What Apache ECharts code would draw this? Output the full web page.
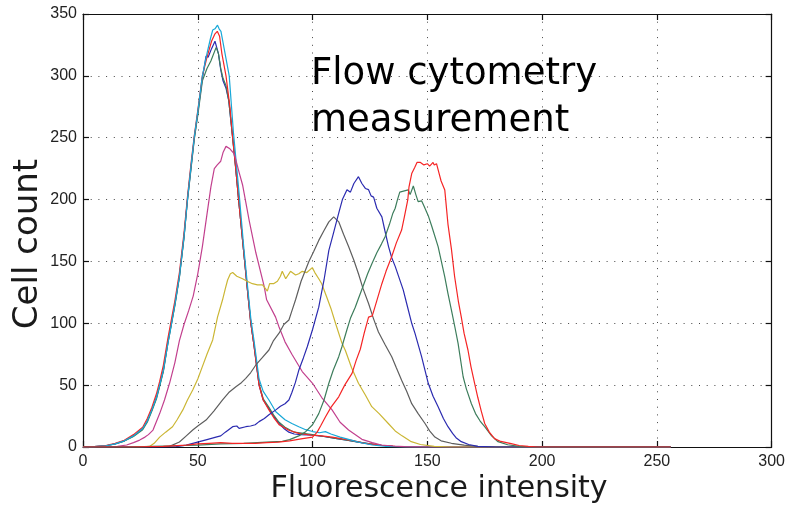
<!DOCTYPE html>
<html>
<head>
<meta charset="utf-8">
<script src="https://cdn.jsdelivr.net/npm/echarts@6/dist/echarts.min.js"></script>
<style>
html,body{margin:0;padding:0;background:#fff;}
#chart{width:788px;height:508px;}
</style>
</head>
<body>
<div id="chart"></div>
<script>
// ---- data: [fluorescence intensity, cell count] ----
const blue1 = [[0,0],[5,0.3],[10,1],[14,2.5],[18,5],[22,9],[26,15],[28,21],[30,30],[32,40],[33.4,50],[35,62],[37,85],[38.5,100],[40,115],[42,138],[44,170],[45.5,200],[47,225],[48.5,250],[50,270],[52,298],[53.6,316],[54.5,315],[56,322],[57.5,328],[58.3,327],[59,318],[60,305],[61,296],[62.3,290],[63.5,280],[65.2,250],[66.5,226],[67.8,200],[70,158],[72,120],[73.1,100],[74.5,82],[76.7,50],[78.5,38],[81,31],[83,25],[85.4,19],[87.5,15],[89.7,12],[92,10.5],[95,10],[100,9.5],[105,8.5],[110,7],[115,5.5],[120,4],[125,2.5],[130,1.4],[135,0.6],[140,0.2],[145,0],[256,0]];
const green1 = [[0,0],[5,0.3],[10,1],[14,2.4],[18,4.8],[22,8.5],[26,14],[28,20],[30,29],[32,39],[33.4,49],[35,61],[37,84],[38.5,99],[40,114],[42,137],[44,169],[45.5,199],[47,224],[48.5,249],[50,268],[52,296],[54,306],[55.7,312],[56.5,313],[58,323],[59,318],[60,306],[61,298],[62.3,292],[63.5,280],[65.2,250],[66.5,226],[67.8,200],[70,158],[72,121],[73.1,101],[74.5,83],[76.7,51],[78.5,39],[81,32],[83,26],[85.4,20],[88,16],[92,12],[96,11],[100,10],[105,8.5],[110,7],[115,5.5],[120,4],[125,2.5],[130,1.4],[135,0.6],[140,0.2],[145,0],[256,0]];
const red1 = [[0,0],[5,0.4],[10,1.2],[14,3],[18,5.5],[22,10],[26,16],[28,23],[30,32],[32,43],[33.4,53],[35,66],[37,88],[38.5,103],[40,118],[42,141],[44,173],[45.5,202],[47,228],[48.5,252],[50,272],[52,300],[54,315],[56,328],[57.5,334],[58.5,336],[59.5,332],[60.5,318],[62.3,300],[64,275],[65.2,250],[66.5,226],[67.8,200],[70,158],[72,120],[73.1,100],[74.5,82],[76.7,50],[78.5,38],[81,30],[83,24],[85.4,18],[89.7,13.5],[94,11],[99.8,9.5],[104,9],[108.5,8],[113,6.5],[117,5.4],[123,3],[130,1.4],[136,0.5],[142,0],[256,0]];
const cyan1 = [[0,0],[5,0.3],[10,1],[14,2.5],[18,5],[22,9],[26,15],[28,21],[30,30],[32,40],[33.4,50],[35,62],[37,84],[38.5,99],[40,115],[42,138],[44,170],[45.5,200],[47,226],[48.5,251],[50,271],[52,300],[54,318],[55.5,330],[56.5,337],[57.5,338],[58.6,341],[59.3,338],[60.1,336],[61.5,322],[62.3,314],[63.7,300],[65.5,255],[68,205],[70,162],[72,124],[73.1,104],[74.5,86],[76.7,55],[78.5,45],[81,38],[84,28.5],[88,22],[91,19],[94,16.4],[97,14],[100,12.5],[103,11.5],[105.6,12.4],[108,10.5],[112,8],[115.7,6.2],[120,4],[126,1.6],[132,0.5],[138,0],[256,0]];
const magenta = [[0,0],[10,0],[15,0.5],[19,1.6],[22,3.5],[24.7,5.6],[27,8],[28.5,10],[30.5,13.7],[33.4,27],[35.5,38],[37.7,51.5],[40,68],[42,86],[44,99],[46,110],[48,122],[50,140],[52,162],[54,188],[55.7,210],[57.2,225],[58.5,228],[60,231],[61,238],[62.3,243],[64,241],[65.9,237],[68,222],[69.5,212],[72.4,183],[75.3,157],[78.9,130],[80,119],[83.9,105],[85.4,97],[88,85],[91,75],[95.5,61],[100,51.5],[104,40],[108.5,30],[112,20],[115.7,13.7],[121.5,6.2],[126,3.5],[130,1.6],[135,0.8],[140,0.3],[150,0],[256,0]];
const yellow = [[0,0],[25,0],[29,0.5],[31,3],[33.4,8],[36,12],[39,16.4],[41,22],[43.5,30],[45.5,38],[47.8,46],[50,55],[52,65],[54,75],[56.5,86.5],[58.6,105],[60.8,119],[62,128],[63,135],[64.2,140],[65.2,141],[67,138],[69.5,136],[71.5,134],[73.8,132],[76,131],[78.2,131],[79.5,128],[80.3,126],[81.3,132],[83,132],[84.7,134],[86,138],[86.8,142],[88.3,136],[90.4,142],[92.6,139],[94,140],[95.5,142],[97.5,141],[99.9,145],[101,141],[102.7,136],[104,132],[106,122],[108,112],[110,100],[112.8,84],[114.3,78],[117,64],[120,51.5],[123,42],[125.8,32.6],[129,27],[133,19],[136,13],[139,9],[143,4.3],[147,2],[153,0.5],[160,0],[256,0]];
const gray = [[0,0],[30,0],[37.7,0.5],[42,4],[45,9],[47.8,13.7],[50,17],[53.6,21.8],[57,29],[60.8,38],[63.5,44],[66.6,48.7],[69,52],[70.9,55.5],[73,60],[75.3,66.3],[78,72],[81,78.4],[83,86],[85.4,92],[87.5,99],[89.7,102.7],[91,110],[92.6,119],[95,134],[98.4,150],[100.5,158],[102.7,167],[105,175],[107.1,182],[109.2,186],[111.4,182],[113.5,172],[115.7,162],[118,151],[120,140],[122,128],[124.4,116],[126.5,104],[128.7,93],[131.5,83],[134.5,73],[136.5,64],[138.8,54],[141,45],[143.2,35],[146,27],[149,19],[151,13],[153.3,8],[156,5],[160.5,3],[166,1.5],[172,0.5],[180,0],[256,0]];
const blue2 = [[0,0],[35,0],[40.6,0.3],[45,1.5],[50.7,4.3],[54,6],[57.9,8],[60,9],[62,12],[65.2,16.4],[67,17],[68,15],[70.9,16.4],[73,17],[75,18],[76.7,20.5],[79,23],[81,26],[84,30],[86,33],[88,35],[89.7,38],[91,44],[92.5,52],[94,62],[96,72],[97.7,81],[100,95],[102.7,113],[105,135],[107.1,159],[109,172],[111.4,189],[113,200],[115,208],[116.5,206],[118,213],[120,218.5],[121.5,213],[123,209],[124.4,208],[125.5,203],[126.6,202],[128,193],[130.2,186],[131.5,175],[133.1,162],[134.5,153],[136,146],[139.5,127],[141,116],[143.2,100],[144.6,92],[147.5,73],[150.4,51.5],[152.5,41],[154.7,32.6],[157,23],[159,16.4],[161,11],[162.5,7.5],[164.8,4.3],[168,2],[172,0.5],[180,0],[256,0]];
const green2 = [[0,0],[20,0],[30,0.5],[40,1],[50,1.5],[60,2.5],[70,3],[80,4],[86.8,4.5],[90,6],[94,9],[97,12.4],[100,18],[102.7,27],[105,38],[107.1,51.5],[109,62],[111.4,73],[112.8,81],[115,95],[116.5,104],[118.6,113],[120,120],[122,130],[124,140],[125.8,148],[128,157],[130,164],[131.6,170],[133.5,180],[135,189],[136,193],[137,200],[138,206],[138.8,206.4],[140,207],[141.7,207.8],[142.5,204],[143.9,211],[145,204],[146,198.3],[147.5,199],[148.5,195],[150.4,187],[152,178],[154.7,162],[157.6,137.6],[159,124],[160.5,110.7],[162,97],[163.4,83.8],[165.6,56.8],[167,47],[169.2,35],[171,27],[173,21],[175,16.4],[178,9],[180.8,4.3],[185,1.8],[190,0.5],[195,0],[256,0]];
const red2 = [[0,0],[20,0],[35,0.5],[45,1.5],[50,2.5],[55,3],[60,3.5],[65,3],[70,3],[75,3],[80,3.5],[85,4],[90,5],[95,6.5],[100,8],[102,12],[103.5,17],[105.6,24.3],[108,32],[111.4,40.6],[114,50],[117.2,59.5],[119,70],[120.8,79],[122.5,92],[124.4,105],[126,106],[127,112],[130.2,132],[132,142],[134.5,154],[136.5,165],[138.8,175.4],[140,186],[141.5,200],[142,210],[143.2,221],[144.5,226],[145.5,230],[146,229],[147,230],[148.5,228],[150,229],[151,227],[152.5,230],[153,228],[154,229],[155,222],[156,215],[157.6,207.8],[159,180],[160.5,160],[161.9,137.6],[163.5,118],[164.8,105],[166,92],[167.7,78.4],[169,65],[170.6,51.5],[172,40],[173.5,29],[175,19],[177,12],[179.3,6.8],[182,4.5],[186.5,2.7],[190,1.2],[194,0.5],[198,0],[256,0]];

const xTicks = [0, 50, 100, 150, 200, 250, 300];
const yTicks = [0, 50, 100, 150, 200, 250, 300, 350];

const seriesList = [
  {data: blue1,   color: '#2b2bb0'},
  {data: green1,  color: '#3d7d5c'},
  {data: red1,    color: '#f52525'},
  {data: cyan1,   color: '#18a8d8'},
  {data: magenta, color: '#c2408e'},
  {data: yellow,  color: '#cbb634'},
  {data: gray,    color: '#5e5e5e'},
  {data: blue2,   color: '#2b2bb0'},
  {data: green2,  color: '#3d7d5c'},
  {data: red2,    color: '#f52525'}
];

const chart = echarts.init(document.getElementById('chart'), null, {renderer: 'canvas'});
const gridDots = {color: '#444', width: 1, type: [1, 6.7]};
const axisLineStyle = {color: '#111', width: 1.2};
const tickFont = {fontFamily: 'Liberation Sans', fontSize: 16, color: '#222'};

chart.setOption({
  animation: false,
  backgroundColor: '#fff',
  grid: {left: 83, right: 13, top: 14, bottom: 61, containLabel: false},
  xAxis: [
    {type: 'value', min: xTicks[0], max: xTicks[xTicks.length - 1], interval: 50, position: 'bottom',
     axisLine: {show: true, onZero: false, lineStyle: axisLineStyle},
     axisTick: {show: true, inside: true, length: 6, lineStyle: axisLineStyle},
     axisLabel: Object.assign({margin: 7}, tickFont),
     splitLine: {show: true, lineStyle: gridDots}},
    {type: 'value', min: xTicks[0], max: xTicks[xTicks.length - 1], interval: 50, position: 'top',
     axisLine: {show: true, onZero: false, lineStyle: axisLineStyle},
     axisTick: {show: true, inside: true, length: 6, lineStyle: axisLineStyle},
     axisLabel: {show: false}, splitLine: {show: false}}
  ],
  yAxis: [
    {type: 'value', min: yTicks[0], max: yTicks[yTicks.length - 1], interval: 50, position: 'left',
     axisLine: {show: true, onZero: false, lineStyle: axisLineStyle},
     axisTick: {show: true, inside: true, length: 6, lineStyle: axisLineStyle},
     axisLabel: Object.assign({margin: 6}, tickFont),
     splitLine: {show: true, lineStyle: gridDots}},
    {type: 'value', min: yTicks[0], max: yTicks[yTicks.length - 1], interval: 50, position: 'right',
     axisLine: {show: true, onZero: false, lineStyle: axisLineStyle},
     axisTick: {show: true, inside: true, length: 6, lineStyle: axisLineStyle},
     axisLabel: {show: false}, splitLine: {show: false}}
  ],
  series: seriesList.map(s => ({
    type: 'line', data: s.data, xAxisIndex: 0, yAxisIndex: 0,
    showSymbol: false, symbol: 'none', smooth: false,
    lineStyle: {color: s.color, width: 1.2}, itemStyle: {color: s.color}
  })),
  graphic: [
    {type: 'text', left: 311, top: 51, z: 10,
     style: {text: 'Flow cytometry\nmeasurement', font: '37px "DejaVu Sans"', fill: '#000', lineHeight: 47}},
    {type: 'text', x: 439, y: 489, z: 10,
     style: {text: 'Fluorescence intensity', font: '30px "DejaVu Sans"', fill: '#1a1a1a', align: 'center', verticalAlign: 'middle'}},
    {type: 'text', x: 28, y: 244, rotation: Math.PI / 2, z: 10,
     style: {text: 'Cell count', font: '34px "DejaVu Sans"', fill: '#1a1a1a', align: 'center', verticalAlign: 'middle'}}
  ]
});
</script>
</body>
</html>
